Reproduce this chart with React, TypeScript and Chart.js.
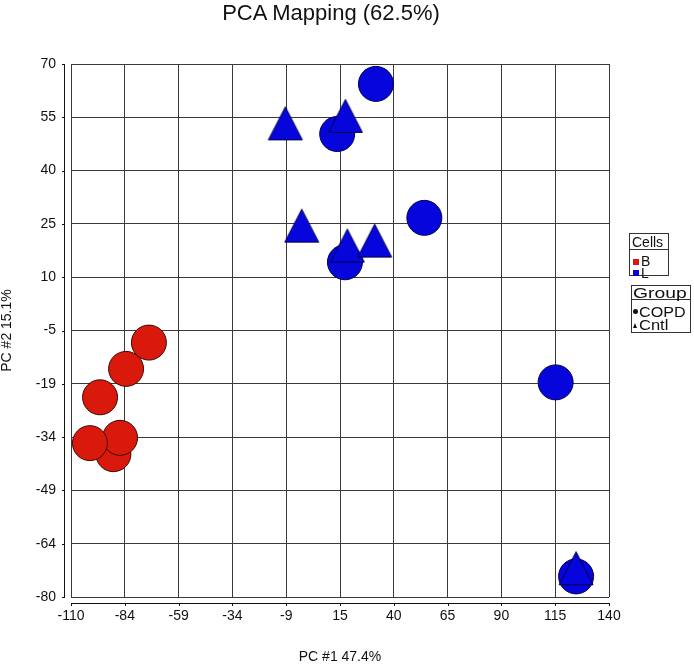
import React, { useEffect, useRef } from "react";
import { Chart, registerables } from "chart.js";

Chart.register(...registerables);

// ---- data ----
const xTickValues = [-110, -85, -60, -35, -10, 15, 40, 65, 90, 115, 140];
const xTickLabels = ["-110", "-84", "-59", "-34", "-9", "15", "40", "65", "90", "115", "140"];
const yTickValues = [-80, -65, -50, -35, -20, -5, 10, 25, 40, 55, 70];
const yTickLabels = ["-80", "-64", "-49", "-34", "-19", "-5", "10", "25", "40", "55", "70"];

const bCopdX = [-90.3, -87.2, -101.2, -96.5, -84.4, -73.8];
const bCopdY = [-39.8, -35.2, -36.7, -23.8, -15.8, -8.4];

const lCopdX = [31.7, 13.7, 54.2, 17.3, 115.2, 124.7];
const lCopdY = [64.4, 50.3, 26.7, 14.2, -19.6, -74.2];

const lCntlX = [-10.4, 17.5, -2.8, 18.4, 31.1, 124.7];
const lCntlY = [53.3, 55.4, 24.5, 18.9, 20.3, -71.9];

const RED = "#d8190c";
const RED_BORDER = "#3c0805";
const BLUE = "#0606dc";
const BLUE_BORDER = "#00004a";
const FONT = "'Liberation Sans', Arial, sans-serif";

function pts(xs: number[], ys: number[]) {
  return xs.map((x, i) => ({ x, y: ys[i] }));
}

function makeTriangle(fill: string, stroke: string) {
  const c = document.createElement("canvas");
  c.width = 36;
  c.height = 36;
  const g = c.getContext("2d")!;
  g.beginPath();
  g.moveTo(18, 1.5);
  g.lineTo(35, 34.5);
  g.lineTo(1, 34.5);
  g.closePath();
  g.fillStyle = fill;
  g.fill();
  g.lineWidth = 1;
  g.strokeStyle = stroke;
  g.stroke();
  return c;
}

const axisPlugin = {
  id: "offsetAxes",
  afterDraw(chart: any) {
    const { ctx, chartArea: a, scales } = chart;
    ctx.save();
    ctx.strokeStyle = "#111";
    ctx.lineWidth = 1;
    const ax = Math.round(a.left) - 7 + 0.5;
    const ay = Math.round(a.bottom) + 6 + 0.5;
    ctx.beginPath();
    ctx.moveTo(ax, a.top);
    ctx.lineTo(ax, a.bottom + 1);
    yTickValues.forEach((v) => {
      const p = Math.round(scales.y.getPixelForValue(v)) + 0.5;
      ctx.moveTo(ax - 2.5, p);
      ctx.lineTo(ax, p);
    });
    ctx.moveTo(a.left, ay);
    ctx.lineTo(a.right + 1, ay);
    xTickValues.forEach((v) => {
      const p = Math.round(scales.x.getPixelForValue(v)) + 0.5;
      ctx.moveTo(p, ay);
      ctx.lineTo(p, ay + 2.5);
    });
    ctx.stroke();
    ctx.restore();
  },
};

export default function App() {
  const ref = useRef<HTMLCanvasElement>(null);

  useEffect(() => {
    const tri = makeTriangle(BLUE, BLUE_BORDER);
    const chart = new Chart(ref.current!, {
      type: "scatter",
      data: {
        datasets: [
          {
            label: "B COPD",
            data: pts(bCopdX, bCopdY),
            order: 2,
            pointStyle: "circle",
            pointRadius: 17.5,
            pointHoverRadius: 17.5,
            backgroundColor: RED,
            borderColor: RED_BORDER,
            borderWidth: 1,
          },
          {
            label: "L COPD",
            data: pts(lCopdX, lCopdY),
            order: 1,
            pointStyle: "circle",
            pointRadius: 17.5,
            pointHoverRadius: 17.5,
            backgroundColor: BLUE,
            borderColor: BLUE_BORDER,
            borderWidth: 1,
          },
          {
            label: "L Cntl",
            data: pts(lCntlX, lCntlY),
            order: 0,
            pointStyle: tri as any,
            pointRadius: 17,
            backgroundColor: BLUE,
            borderColor: BLUE_BORDER,
          },
        ],
      },
      options: {
        responsive: false,
        animation: false,
        layout: { padding: { left: 0, right: 85, top: 64, bottom: 0 } },
        plugins: {
          legend: { display: false },
          tooltip: { enabled: false },
          title: { display: false },
        },
        scales: {
          x: {
            type: "linear",
            min: -110,
            max: 140,
            afterFit: (s: any) => {
              s.height = 69;
            },
            afterBuildTicks: (s: any) => {
              s.ticks = xTickValues.map((v) => ({ value: v }));
            },
            grid: { color: "#3a3a3a", lineWidth: 1, drawTicks: false },
            border: { display: false },
            ticks: {
              padding: 11,
              color: "#111",
              font: { family: FONT, size: 14 },
              autoSkip: false,
              maxRotation: 0,
              callback: (_v: any, i: number) => xTickLabels[i],
            },
            title: {
              display: true,
              text: "PC #1 47.4%",
              color: "#111",
              font: { family: FONT, size: 14 },
              padding: { top: 0, bottom: 0 },
            },
          },
          y: {
            type: "linear",
            min: -80,
            max: 70,
            afterFit: (s: any) => {
              s.width = 71;
            },
            afterBuildTicks: (s: any) => {
              s.ticks = yTickValues.map((v) => ({ value: v }));
            },
            grid: { color: "#3a3a3a", lineWidth: 1, drawTicks: false },
            border: { display: false },
            ticks: {
              padding: 15,
              color: "#111",
              font: { family: FONT, size: 14 },
              autoSkip: false,
              callback: (_v: any, i: number) => yTickLabels[i],
            },
            title: {
              display: true,
              text: "PC #2 15.1%",
              color: "#111",
              font: { family: FONT, size: 14, lineHeight: 1 },
              padding: { top: 0, bottom: 0 },
            },
          },
        },
      },
      plugins: [axisPlugin],
    });
    return () => chart.destroy();
  }, []);

  const txt: React.CSSProperties = {
    position: "absolute",
    fontFamily: FONT,
    fontSize: 14,
    lineHeight: "14px",
    color: "#111",
    whiteSpace: "nowrap",
  };

  return (
    <div style={{ position: "absolute", left: 0, top: 0, width: 694, height: 666, background: "#fff" }}>
      <canvas ref={ref} width={694} height={666} style={{ position: "absolute", left: 0, top: 0 }} />
      <div
        style={{
          position: "absolute",
          left: 0,
          top: 0,
          width: 662,
          textAlign: "center",
          fontFamily: FONT,
          fontSize: 22,
          lineHeight: "26px",
          color: "#111",
        }}
      >
        PCA Mapping (62.5%)
      </div>

      {/* Cells legend */}
      <div style={{ position: "absolute", left: 629, top: 233, width: 40, height: 43, border: "1px solid #333", boxSizing: "border-box" }} />
      <div style={{ position: "absolute", left: 629, top: 249, width: 40, height: 1, background: "#333" }} />
      <div style={{ ...txt, left: 632, top: 235 }}>Cells</div>
      <div style={{ position: "absolute", left: 633, top: 259, width: 6, height: 6, background: RED }} />
      <div style={{ ...txt, left: 641, top: 254 }}>B</div>
      <div style={{ position: "absolute", left: 633, top: 270, width: 6, height: 6, background: BLUE }} />
      <div style={{ ...txt, left: 641, top: 266 }}>L</div>

      {/* Group legend */}
      <div style={{ position: "absolute", left: 631, top: 285, width: 60, height: 48, border: "1px solid #333", boxSizing: "border-box" }} />
      <div style={{ position: "absolute", left: 631, top: 299, width: 60, height: 1, background: "#333" }} />
      <div style={{ ...txt, left: 633, top: 286, transform: "scaleX(1.38)", transformOrigin: "left top" }}>Group</div>
      <div style={{ position: "absolute", left: 633, top: 309, width: 5, height: 5, borderRadius: "50%", background: "#111" }} />
      <div style={{ ...txt, left: 639, top: 305, transform: "scaleX(1.15)", transformOrigin: "left top" }}>COPD</div>
      <div
        style={{
          position: "absolute",
          left: 633,
          top: 323,
          width: 0,
          height: 0,
          borderLeft: "2.5px solid transparent",
          borderRight: "2.5px solid transparent",
          borderBottom: "5px solid #111",
        }}
      />
      <div style={{ ...txt, left: 639, top: 318, transform: "scaleX(1.18)", transformOrigin: "left top" }}>Cntl</div>
    </div>
  );
}
